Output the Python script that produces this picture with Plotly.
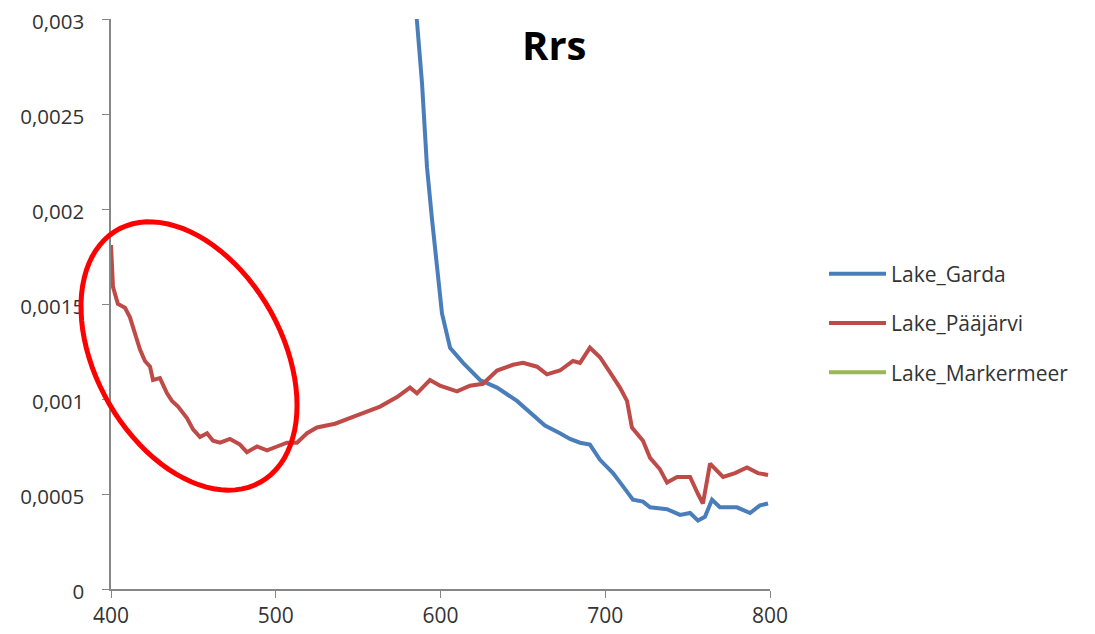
import numpy as np
import plotly.graph_objects as go

# ---- data ----
garda_nm = [583.3, 585.7, 588.8, 591.8, 594.8, 597.9, 600.9, 605.8, 613.7, 624.0, 634.3,
            646.4, 654.3, 663.4, 672.5, 678.6, 684.7, 690.7, 696.8, 704.7, 710.8, 716.8,
            722.9, 727.2, 737.5, 745.4, 751.5, 756.3, 760.5, 764.8, 769.6, 779.9, 787.9,
            793.9, 798.8]
garda_rrs = [0.00340, 0.00299, 0.00266, 0.00222, 0.00195, 0.00169, 0.00145, 0.00127, 0.00119,
             0.00110, 0.00106, 0.00099, 0.00093, 0.00086, 0.00082, 0.00079, 0.00077, 0.00076,
             0.00068, 0.00061, 0.00054, 0.00047, 0.00046, 0.00043, 0.00042, 0.00039, 0.00040,
             0.00036, 0.00038, 0.00047, 0.00043, 0.00043, 0.00040, 0.00044, 0.00045]

paajarvi_nm = [400.0, 401.2, 404.2, 408.5, 411.5, 414.6, 417.6, 420.6, 423.7, 425.5, 429.7,
               434.0, 437.0, 440.7, 446.1, 449.8, 454.0, 458.3, 461.9, 466.2, 472.2, 478.3,
               482.5, 488.6, 494.7, 500.8, 506.8, 512.9, 519.0, 525.0, 536.0, 548.1, 563.3,
               573.6, 581.5, 585.7, 593.6, 599.7, 610.0, 617.9, 625.8, 634.3, 644.0, 650.1,
               658.6, 664.6, 672.5, 680.4, 684.7, 690.7, 696.8, 702.9, 708.9, 713.2, 716.2,
               722.9, 727.2, 733.2, 737.5, 743.6, 751.5, 756.3, 759.3, 763.6, 771.5, 778.8,
               786.0, 792.7, 798.8]
paajarvi_rrs = [0.00181, 0.00159, 0.00150, 0.00148, 0.00143, 0.00135, 0.00126, 0.00120, 0.00117,
                0.00110, 0.00111, 0.00103, 0.00099, 0.00096, 0.00090, 0.00084, 0.00080, 0.00082,
                0.00078, 0.00077, 0.00079, 0.00076, 0.00072, 0.00075, 0.00073, 0.00075, 0.00077,
                0.00077, 0.00082, 0.00085, 0.00087, 0.00091, 0.00096, 0.00101, 0.00106, 0.00103,
                0.00110, 0.00107, 0.00104, 0.00107, 0.00108, 0.00115, 0.00118, 0.00119, 0.00117,
                0.00113, 0.00115, 0.00120, 0.00119, 0.00127, 0.00122, 0.00114, 0.00106, 0.00099,
                0.00085, 0.00078, 0.00069, 0.00063, 0.00056, 0.00059, 0.00059, 0.00050, 0.00045,
                0.00066, 0.00059, 0.00061, 0.00064, 0.00061, 0.00060]

markermeer_nm = [None]
markermeer_rrs = [None]

x_ticks = [400, 500, 600, 700, 800]
y_ticks = [0, 0.0005, 0.001, 0.0015, 0.002, 0.0025, 0.003]
y_tick_text = ["0", "0,0005", "0,001", "0,0015", "0,002", "0,0025", "0,003"]

FONT = "Open Sans"
TXT = "#333333"
AX = "#868686"
fig = go.Figure()
fig.add_trace(go.Scatter(x=garda_nm, y=garda_rrs, mode="lines", name="Lake_Garda",
                         legendgroup="g", line=dict(color="#4A7EBB", width=4)))
fig.add_trace(go.Scatter(x=paajarvi_nm, y=paajarvi_rrs, mode="lines", name="Lake_Pääjärvi",
                         legendgroup="p", line=dict(color="#BE4B48", width=4)))
fig.add_trace(go.Scatter(x=markermeer_nm, y=markermeer_rrs, mode="lines", name="Lake_Markermeer",
                         legendgroup="m", showlegend=True, line=dict(color="#98B954", width=4)))

# page has an 8px body margin: figure is 1087x626 drawn at (8, 8)
OFF = 8
W, H = 1095 - OFF, 634 - OFF
L, R, T, B = 111 - OFF, 770 - OFF, 19 - OFF, 589 - OFF

# red ellipse highlight (paper coordinates, pixel geometry of the annotation)
cx, cy, a, b, th = 189 - OFF, 356 - OFF, 145, 93, np.deg2rad(60.4)
t = np.linspace(0, 2 * np.pi, 90)
ex = cx + a * np.cos(t) * np.cos(th) - b * np.sin(t) * np.sin(th)
ey = cy + a * np.cos(t) * np.sin(th) + b * np.sin(t) * np.cos(th)
px = (ex - L) / (R - L)
py = (B - ey) / (B - T)
path = "M " + " L ".join(f"{u:.4f},{v:.4f}" for u, v in zip(px, py)) + " Z"

fig.update_layout(
    width=W, height=H,
    margin=dict(l=L, r=W - R, t=T, b=H - B, autoexpand=False),
    paper_bgcolor="white", plot_bgcolor="white",
    font=dict(family=FONT, size=21, color=TXT),
    xaxis=dict(range=[400, 800], tickvals=x_ticks, ticks="outside", ticklen=7,
               tickcolor=AX, showline=True, linecolor=AX, linewidth=1.5,
               showgrid=False, zeroline=False, automargin=False,
               ticklabeloverflow="allow", tickfont=dict(size=21, color=TXT)),
    yaxis=dict(range=[0, 0.003], tickvals=y_ticks, ticktext=y_tick_text, ticks="outside",
               ticklen=7, tickcolor=AX, showline=True, linecolor=AX,
               linewidth=1.5, showgrid=False, zeroline=False, automargin=False,
               ticklabeloverflow="allow", ticklabelstandoff=14, ticklabelshift=3,
               tickfont=dict(size=20.5, color=TXT)),
    legend=dict(x=(824 - 111) / 659, y=0.5885, xanchor="left", yanchor="top",
                tracegroupgap=19, itemwidth=57, font=dict(size=21, color=TXT),
                bgcolor="rgba(0,0,0,0)"),
    shapes=[dict(type="path", xref="paper", yref="paper", path=path,
                 line=dict(color="#FF0000", width=5), layer="above")],
    annotations=[dict(text="<b>Rrs</b>", xref="paper", yref="paper",
                      x=(554 - OFF - L) / (R - L), y=(B - (44 - OFF)) / (B - T),
                      xanchor="center", yanchor="middle", showarrow=False,
                      font=dict(family=FONT, size=40, color="#000000"))],
)

fig.write_html("out.html")
